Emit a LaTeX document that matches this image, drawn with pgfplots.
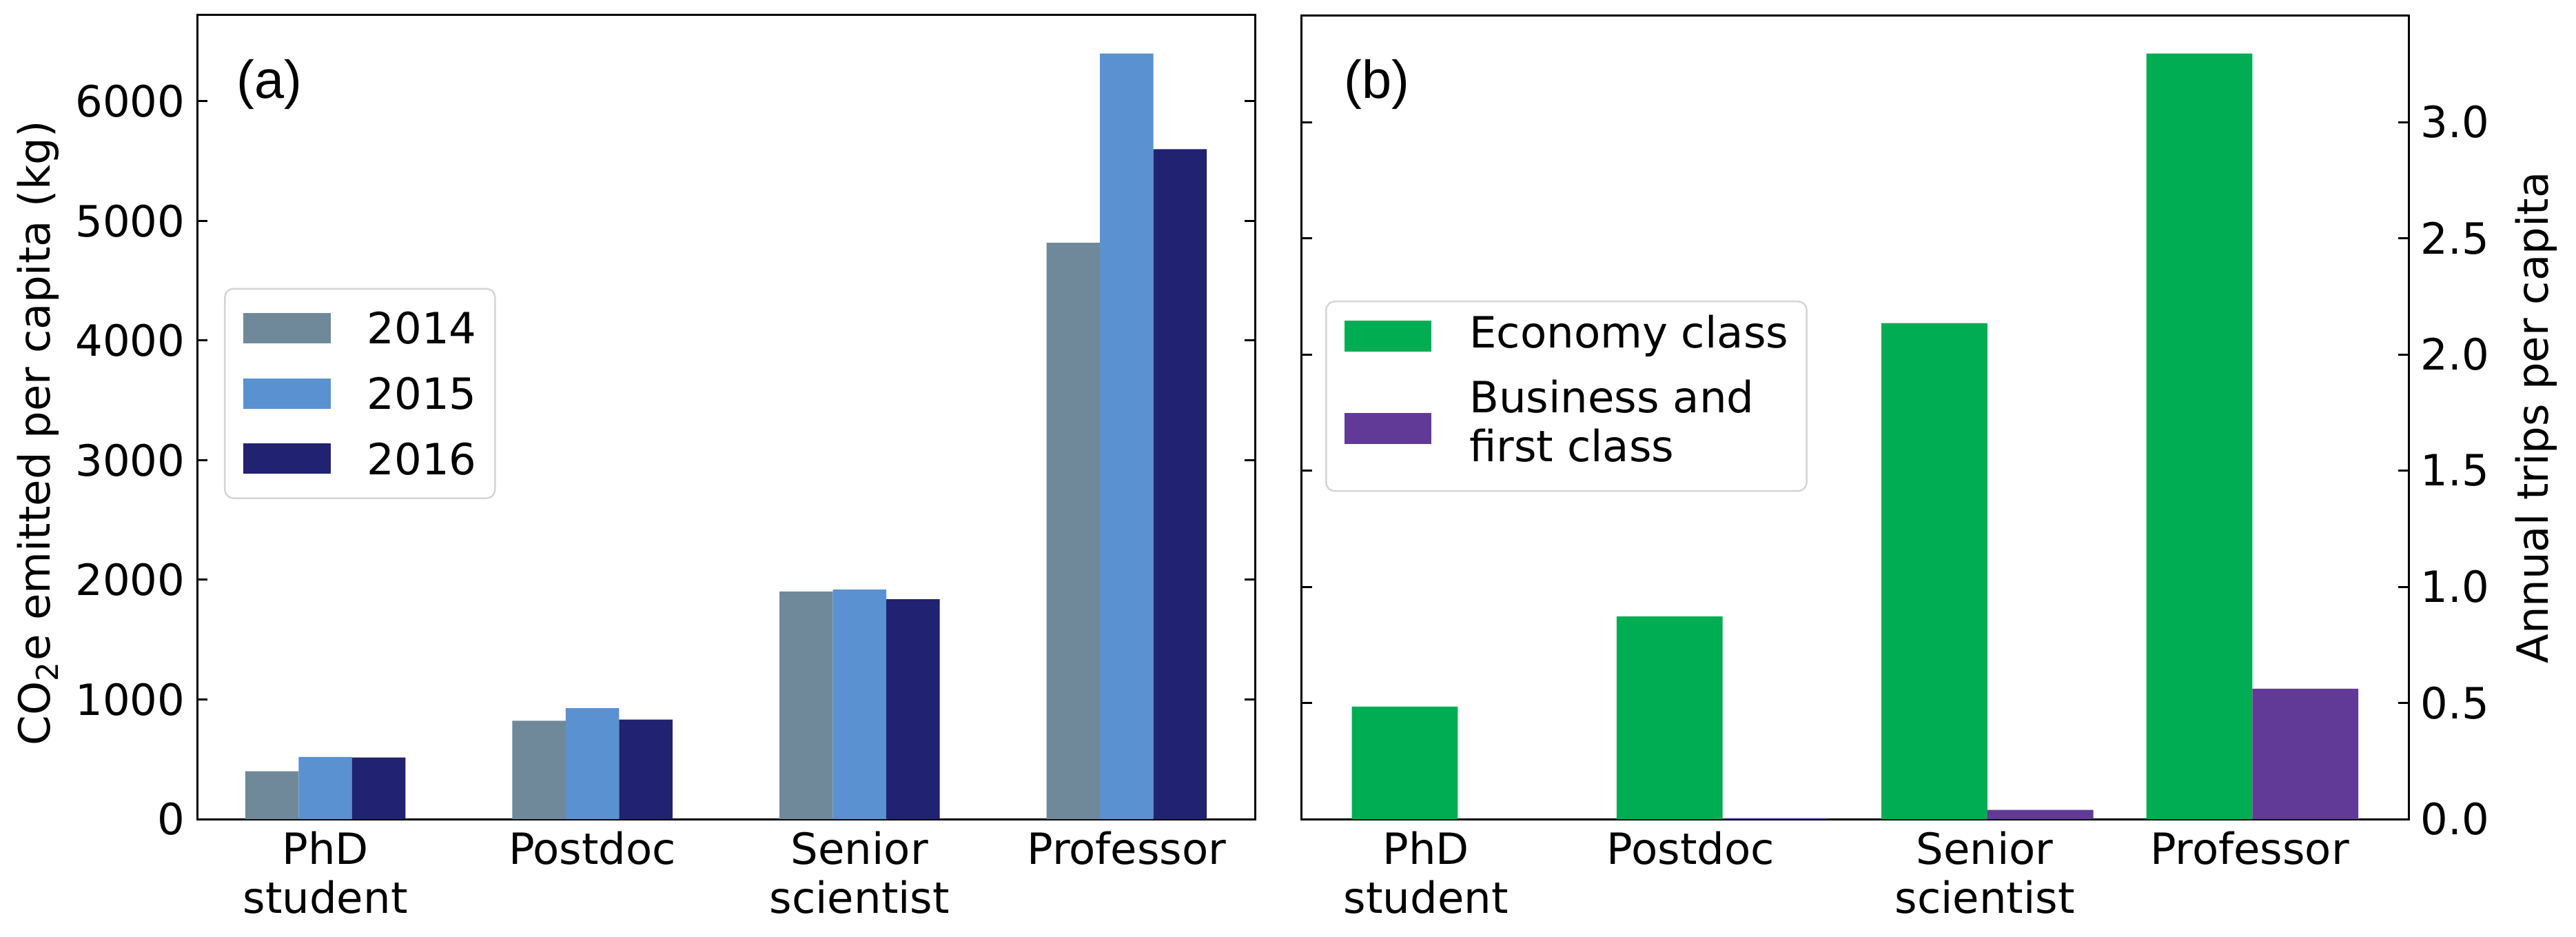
\documentclass[border=0pt]{standalone}
\usepackage{fontspec}
\setmainfont{DejaVu Sans}
\newfontfamily\arialf{Liberation Sans}
\usepackage{pgfplots}
\pgfplotsset{compat=1.18}
\definecolor{cA}{HTML}{6F899B}
\definecolor{cB}{HTML}{5A91D0}
\definecolor{cC}{HTML}{222272}
\definecolor{cEco}{HTML}{00AD53}
\definecolor{cBus}{HTML}{613A97}
\definecolor{legframe}{HTML}{D5D5D5}
\pgfplotsset{
  common/.style={
    scale only axis, anchor=south west,
    height=233.2pt, ymin=0,
    axis line style={line width=0.6pt},
    every tick/.style={black, line width=0.6pt},
    major tick length=3pt,
    tick align=inside,
    major x tick style={draw=none},
    tick label style={font=\fontsize{12.5}{14.2}\selectfont},
    /pgf/number format/assume math mode=true,
    xticklabel style={align=center},
    label style={font=\fontsize{12.5}{15}\selectfont},
    legend cell align=left,
  },
  legA/.style={legend image code/.code={\fill[##1, sharp corners] (0pt,-4.4pt) rectangle (25.4pt,4.4pt);}},
  legB/.style={legend image code/.code={\fill[##1, sharp corners] (0pt,-4.5pt) rectangle (25.3pt,4.5pt);}},
}
\begin{document}
\begin{tikzpicture}
\useasboundingbox (0,0) rectangle (747.6pt,271.6pt);
% ---------------- panel (a)
\begin{axis}[common, at={(57.2pt,34pt)}, width=307pt,
  xmin=-0.48, xmax=3.48, ymax=6720,
  xtick={0,1,2,3},
  xticklabels={{PhD\\student},{Postdoc},{Senior\\scientist},{Professor}},
  ytick={0,1000,2000,3000,4000,5000,6000},
  yticklabel style={/pgf/number format/1000 sep={}},
  ylabel={CO\textsubscript{2}e emitted per capita (kg)},
  ylabel style={at={(axis description cs:-0.1505,0.48)}, anchor=center},
  legend style={at={(0.0254,0.6608)}, anchor=north west, draw=legframe,
    line width=0.5pt, rounded corners=2.5pt, inner xsep=5.3pt, inner ysep=6.7pt,
    row sep=9.5pt, column sep=10.6pt, font=\fontsize{12.5}{14.2}\selectfont,
    nodes={inner sep=0pt, text depth={}}},
]
\addplot[ybar, bar width=0.2, bar shift=0pt, fill=cA, draw=none, legA]
  coordinates {(-0.2,400) (0.8,822) (1.8,1903) (2.8,4818)};
\addlegendentry{2014}
\addplot[ybar, bar width=0.2, bar shift=0pt, fill=cB, draw=none, legA]
  coordinates {(0,520) (1,927) (2,1918) (3,6400)};
\addlegendentry{2015}
\addplot[ybar, bar width=0.2, bar shift=0pt, fill=cC, draw=none, legA]
  coordinates {(0.2,515) (1.2,832) (2.2,1838) (3.2,5600)};
\addlegendentry{2016}
\node[font=\arialf\fontsize{15.5}{18}\selectfont] at (rel axis cs:0.0684,0.9142) {(a)};
\end{axis}
% ---------------- panel (b)
\begin{axis}[common, at={(377.7pt,34pt)}, width=321.3pt,
  xmin=-0.39, xmax=3.79, ymax=3.46,
  xtick={0.08,1.08,2.19,3.19},
  xticklabels={{PhD\\student},{Postdoc},{Senior\\scientist},{Professor}},
  ytick={0,0.5,1,1.5,2,2.5,3},
  ytick pos=both, yticklabel pos=right,
  yticklabel style={/pgf/number format/.cd, fixed, fixed zerofill, precision=1},
  ylabel={Annual trips per capita},
  ylabel style={at={(axis description cs:1.1152,0.499)}, anchor=center},
  legend style={at={(0.0215,0.645)}, anchor=north west, draw=legframe,
    line width=0.5pt, rounded corners=2.5pt, inner xsep=5.3pt, inner ysep=4pt,
    row sep=6.7pt, column sep=11pt, font=\fontsize{12.5}{14.2}\selectfont,
    nodes={inner sep=0pt, text depth={}, align=left}},
]
\addplot[ybar, bar width=0.4, bar shift=0pt, fill=cEco, draw=none, legB]
  coordinates {(0,0.484) (1,0.872) (2,2.135) (3,3.295)};
\addlegendentry{Economy class}
\addplot[ybar, bar width=0.4, bar shift=0pt, fill=cBus, draw=none, legB]
  coordinates {(0.4,0) (1.4,0.004) (2.4,0.04) (3.4,0.561)};
\addlegendentry{Business and\\first class\rule[-4.5pt]{0pt}{0pt}}
\node[font=\arialf\fontsize{15.5}{18}\selectfont] at (rel axis cs:0.0679,0.9142) {(b)};
\end{axis}
\end{tikzpicture}
\end{document}
